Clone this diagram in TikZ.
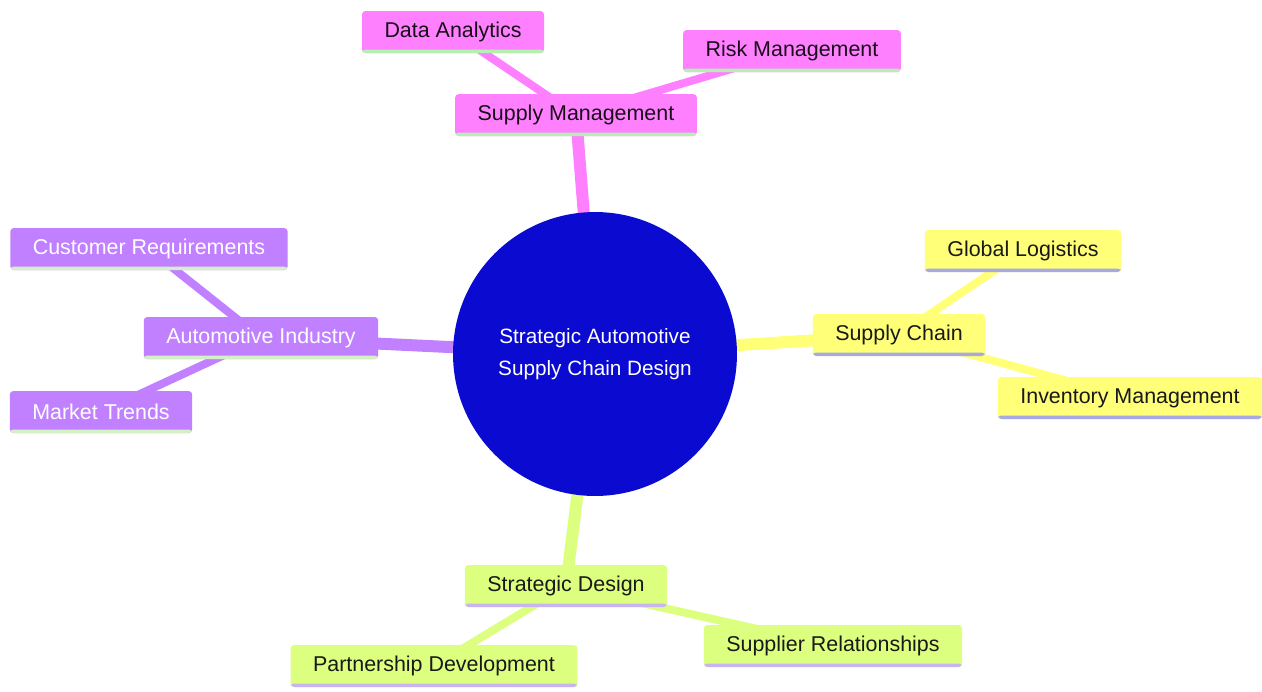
\documentclass[tikz,border=0pt]{standalone}
\usepackage{fontspec}
\setmainfont{Liberation Sans}
\usepackage{tikz}
\usetikzlibrary{backgrounds}

\definecolor{hubblue}{HTML}{0A0AD0}
\definecolor{pinkfill}{HTML}{FF80FF}
\definecolor{pinkline}{HTML}{B4F0B0}
\definecolor{purplefill}{HTML}{C080FF}
\definecolor{purpleline}{HTML}{D4F0C4}
\definecolor{yellowfill}{HTML}{FFFF78}
\definecolor{yellowline}{HTML}{A8A8E4}
\definecolor{greenfill}{HTML}{DDFF80}
\definecolor{greenline}{HTML}{C8B4F0}

\tikzset{underline/.style={path picture={
    \fill[#1] ([yshift=0.07cm]path picture bounding box.south west) rectangle (path picture bounding box.south east);}}}

\begin{document}
\begin{tikzpicture}[x=0.02cm, y=-0.02cm]
    \useasboundingbox (0,0) rectangle (1262,691);

    % --- DEFINE STYLES ---
    % Style for the central circle
    \tikzstyle{hub} = [circle, fill=hubblue, text=white, align=center, minimum size=5.68cm,
                       font=\fontsize{11.8}{18}\selectfont]
    % Style for all topic boxes
    \tikzstyle{topic} = [rectangle, rounded corners=2pt, inner xsep=0.45cm, minimum height=0.84cm,
                         font=\fontsize{12.2}{14}\selectfont]
    % One style per branch
    \tikzstyle{pinkq} = [topic, fill=pinkfill, text=black!90!pinkfill, underline=pinkline]
    \tikzstyle{purpleq} = [topic, fill=purplefill, text=white, underline=purpleline]
    \tikzstyle{yellowq} = [topic, fill=yellowfill, text=black!90, underline=yellowline]
    \tikzstyle{greenq} = [topic, fill=greenfill, text=black!90, underline=greenline]
    % Branch lines
    \tikzstyle{trunk} = [line width=0.24cm]
    \tikzstyle{twig} = [line width=0.16cm]

    % --- CENTRE ---
    \node[hub] (root) at (595,354) {Strategic Automotive\\ Supply Chain Design};

    % --- BRANCHES ---
    \node[pinkq] (supply) at (576,115) {Supply Management};
    \node[pinkq] (analytics) at (453,32) {Data Analytics};
    \node[pinkq] (risk) at (792,51) {Risk Management};

    \node[purpleq] (auto) at (261,338) {Automotive Industry};
    \node[purpleq] (customer) at (149,249) {Customer Requirements};
    \node[purpleq] (market) at (101,412) {Market Trends};

    \node[yellowq] (chain) at (899,335) {Supply Chain};
    \node[yellowq] (logistics) at (1023,251) {Global Logistics};
    \node[yellowq] (inventory) at (1130,398) {Inventory Management};

    \node[greenq] (design) at (566,586) {Strategic Design};
    \node[greenq] (partner) at (434,666) {Partnership Development};
    \node[greenq] (supplier) at (833,646) {Supplier Relationships};

    % --- CONNECTORS (behind the nodes) ---
    \begin{pgfonlayer}{background}
        \draw[trunk, pinkfill] (root.center) -- (supply.center);
        \draw[twig, pinkfill] (supply.center) -- (analytics.center);
        \draw[twig, pinkfill] (supply.center) -- (risk.center);

        \draw[trunk, purplefill] (root.center) -- (auto.center);
        \draw[twig, purplefill] (auto.center) -- (customer.center);
        \draw[twig, purplefill] (auto.center) -- (market.center);

        \draw[trunk, yellowfill] (root.center) -- (chain.center);
        \draw[twig, yellowfill] (chain.center) -- (logistics.center);
        \draw[twig, yellowfill] (chain.center) -- (inventory.center);

        \draw[trunk, greenfill] (root.center) -- (design.center);
        \draw[twig, greenfill] (design.center) -- (partner.center);
        \draw[twig, greenfill] (design.center) -- (supplier.center);
    \end{pgfonlayer}
\end{tikzpicture}
\end{document}
